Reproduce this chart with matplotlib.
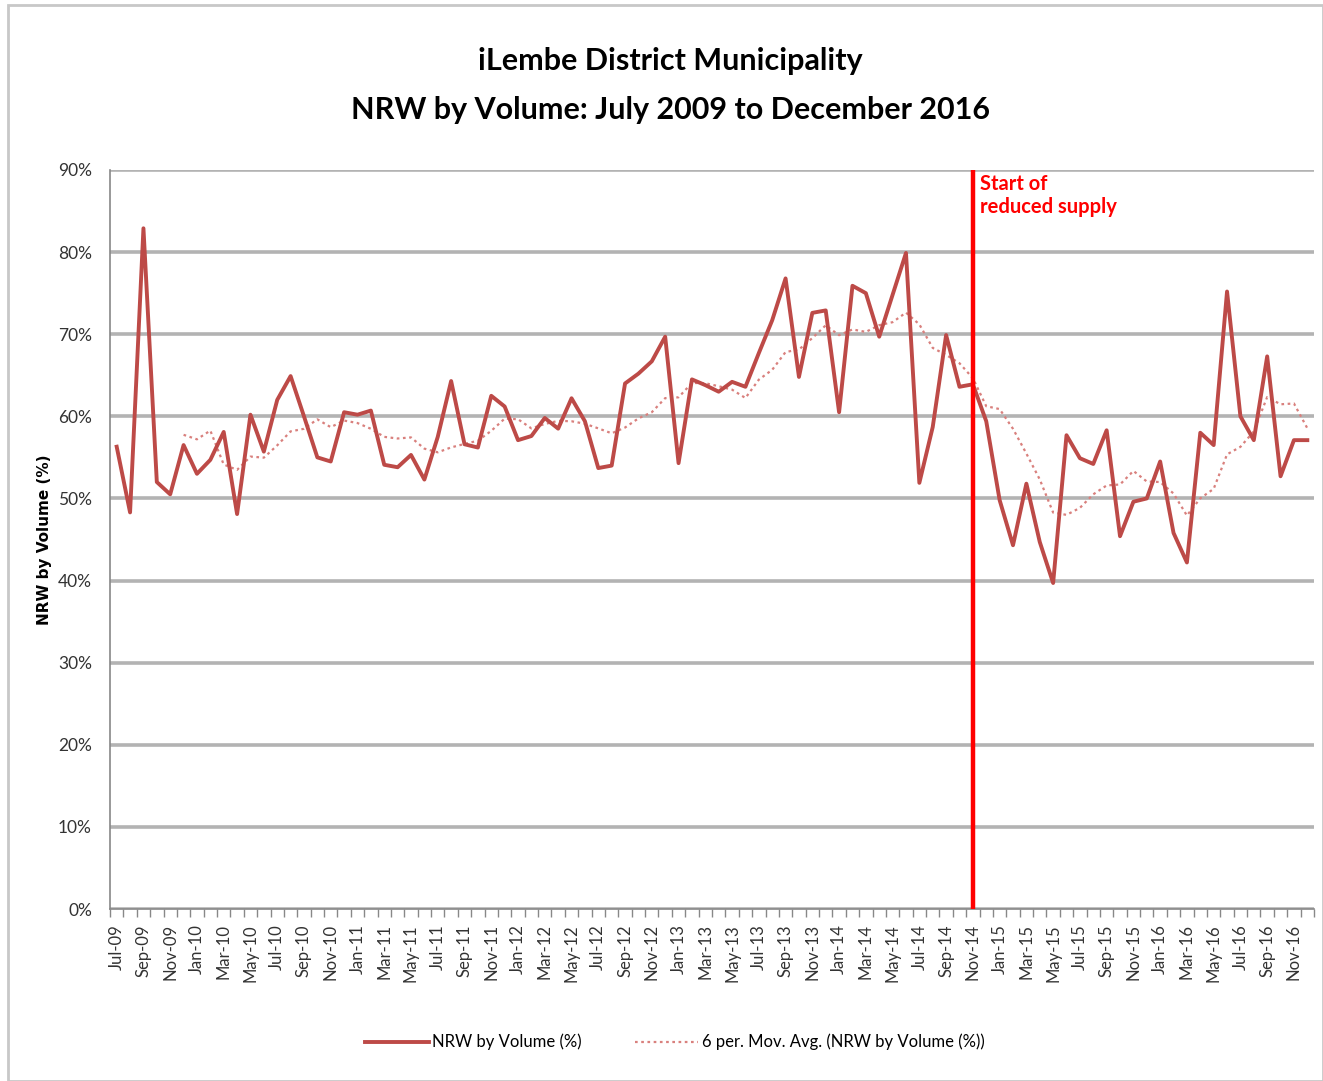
import matplotlib
matplotlib.use("Agg")
import matplotlib.pyplot as plt
import numpy as np
import pandas as pd
from matplotlib.lines import Line2D
from matplotlib.patches import Rectangle

# ---- data ----
months = pd.date_range("2009-07-01", "2016-12-01", freq="MS")
month_labels = [d.strftime("%b-%y") for d in months]
nrw_pct = [
    56.3, 48.3, 82.9, 52.0, 50.5, 56.5, 53.0, 54.7, 58.1, 48.1,
    60.2, 55.7, 62.0, 64.9, 60.0, 55.0, 54.5, 60.5, 60.2, 60.7,
    54.1, 53.8, 55.3, 52.3, 57.5, 64.3, 56.6, 56.2, 62.5, 61.2,
    57.1, 57.6, 59.8, 58.5, 62.2, 59.4, 53.7, 54.0, 64.0, 65.2,
    66.7, 69.7, 54.3, 64.5, 63.8, 63.0, 64.2, 63.6, 67.7, 71.7,
    76.8, 64.8, 72.6, 72.9, 60.5, 75.9, 75.0, 69.7, 74.8, 79.9,
    51.9, 58.7, 69.9, 63.6, 63.9, 59.4, 49.8, 44.3, 51.8, 44.7,
    39.7, 57.7, 54.9, 54.2, 58.3, 45.4, 49.6, 50.0, 54.5, 45.8,
    42.2, 58.0, 56.5, 75.2, 60.0, 57.1, 67.3, 52.7, 57.1, 57.1,
]
ma_window = 6
reduced_supply_label = "Nov-14"
title_lines = ["iLembe District Municipality", "NRW by Volume: July 2009 to December 2016"]
y_ticks = [0, 10, 20, 30, 40, 50, 60, 70, 80, 90]

series = pd.Series(nrw_pct)
moving_avg = series.rolling(ma_window).mean()
x = np.arange(len(nrw_pct))

line_color = "#BD4A47"
ma_color = "#D9807D"
narrow = ["Lato", "DejaVu Sans"]

fig = plt.figure(figsize=(13.23, 10.81), dpi=100)
fig.patches.append(Rectangle((0.006, 0.0), 0.994, 0.995, transform=fig.transFigure,
                             fill=False, edgecolor="#c8c8c8", linewidth=2))

ax = fig.add_axes([110/1323, 1 - 909/1081, (1314-110)/1323, (909-170)/1081])

ax.set_xlim(-0.5, len(nrw_pct) - 0.5)
ax.set_ylim(0, 90)

for t in y_ticks:
    ax.axhline(t, color="#b3b3b3", linewidth=2.6, zorder=1)

ax.plot(x, moving_avg, color=ma_color, linewidth=1.6, linestyle=(0, (1.2, 1.6)), zorder=3)
ax.plot(x, nrw_pct, color=line_color, linewidth=2.8, zorder=4)

xr = month_labels.index(reduced_supply_label)
ax.axvline(xr, color="#FF0000", linewidth=3.2, zorder=5)
ax.text(xr + 0.5, 89.5, "Start of\nreduced supply", color="#FF0000", fontsize=14.5,
        fontweight="bold", family=narrow, va="top", ha="left", linespacing=1.15)

ax.set_yticks(y_ticks)
ax.set_yticklabels([f"{t}%" for t in y_ticks], family=narrow, fontsize=12.5, color="#333333")
ax.tick_params(axis="y", length=0, pad=13)

ax.set_xticks(x[::2])
ax.set_xticklabels(month_labels[::2], rotation=90, family=narrow, fontsize=12, color="#333333")
ax.set_xticks(np.arange(-0.5, len(nrw_pct), 1), minor=True)
ax.tick_params(axis="x", which="major", length=0, pad=11)
ax.tick_params(axis="x", which="minor", length=6, color="#888888", width=1)

for s in ["top", "right"]:
    ax.spines[s].set_visible(False)
ax.spines["left"].set_color("#888888")
ax.spines["bottom"].set_color("#888888")
ax.spines["left"].set_linewidth(1.2)
ax.spines["bottom"].set_linewidth(1.2)

fig.text(45/1323, 1 - 540/1081, "NRW by Volume (%)", rotation=90, ha="center", va="center",
         fontsize=11, fontweight="bold", family=["DejaVu Sans"])

fig.text(0.507, 0.944, title_lines[0], ha="center", va="center", fontsize=22,
         fontweight="bold", family=narrow)
fig.text(0.507, 0.898, title_lines[1], ha="center", va="center", fontsize=22,
         fontweight="bold", family=narrow)

handles = [Line2D([], [], color=line_color, linewidth=2.8),
           Line2D([], [], color=ma_color, linewidth=1.6, linestyle=(0, (1.2, 1.6)))]
labels = ["NRW by Volume (%)", f"{ma_window} per. Mov. Avg. (NRW by Volume (%))"]
fig.legend(handles, labels, loc="center", bbox_to_anchor=(0.51, 0.036), ncol=2,
           frameon=False, prop={"family": narrow, "size": 12}, handlelength=3.8,
           columnspacing=3.2, handletextpad=0.2)

fig.savefig("out.png", dpi=100, facecolor="white")
